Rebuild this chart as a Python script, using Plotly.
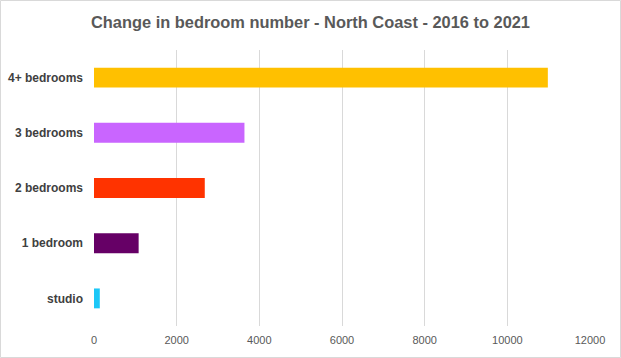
import plotly.graph_objects as go

categories = ["studio", "1 bedroom", "2 bedrooms", "3 bedrooms", "4+ bedrooms"]
values = [140, 1080, 2680, 3640, 10980]
colors = ["#1CC7F7", "#660066", "#FF3300", "#C965FF", "#FFC000"]
x_ticks = [0, 2000, 4000, 6000, 8000, 10000, 12000]

W, H = 621, 358
L, R, T, B = 94, 31, 50, 32
pw, ph = W - L - R, H - T - B

fig = go.Figure(go.Bar(
    x=values, y=categories, orientation="h",
    marker=dict(color=colors, line=dict(width=0)),
    width=0.36,
))

fig.update_layout(
    width=W, height=H,
    margin=dict(l=L, r=R, t=T, b=B, autoexpand=False),
    paper_bgcolor="white", plot_bgcolor="white",
    showlegend=False,
    title=dict(text="<b>Change in bedroom number - North Coast - 2016 to 2021</b>",
               x=0.5, xanchor="center", y=1 - 22 / H, yanchor="middle",
               font=dict(family="Liberation Sans, Arial", size=16.4, color="#595959")),
    xaxis=dict(range=[0, 12000], tickvals=x_ticks, ticktext=[str(v) for v in x_ticks],
               showgrid=True, gridcolor="#D9D9D9", gridwidth=1,
               zeroline=False, showline=False, ticks="",
               ticklabelstandoff=6, automargin=False,
               tickfont=dict(family="Liberation Sans, Arial", size=11, color="#595959"),
               fixedrange=True),
    yaxis=dict(categoryorder="array", categoryarray=categories,
               showgrid=False, zeroline=False, showline=False, ticks="",
               ticklabelstandoff=10, automargin=False,
               tickfont=dict(family="Liberation Sans, Arial", size=12, color="#404040", weight="bold"),
               fixedrange=True),
    shapes=[dict(type="rect", xref="paper", yref="paper",
                 x0=-(L - 0.5) / pw, x1=1 + (R - 0.5) / pw,
                 y0=-(B - 0.5) / ph, y1=1 + (T - 0.5) / ph,
                 line=dict(color="#D9D9D9", width=1), layer="below")],
)

fig.write_html("out.html", config={"displayModeBar": False},
               post_script="document.body.style.margin='0';document.body.style.padding='0';")
